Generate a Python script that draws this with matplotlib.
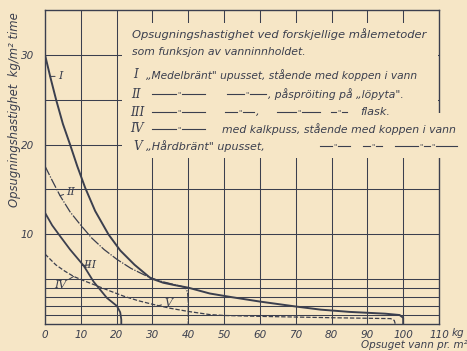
import matplotlib
matplotlib.use('Agg')
import matplotlib.pyplot as plt
from matplotlib.lines import Line2D
from matplotlib.patches import Rectangle

W, H = 467, 351
BG = '#f6e6c6'
INK = '#3b3f4e'

# ---------------- data ----------------
x_I = [0, 1.5, 3.1, 5, 7, 9, 11.2, 14, 17.7, 21, 25, 29.5, 33, 36, 40, 46, 52, 60, 70, 77, 85, 95, 99, 100, 100]
y_I = [30, 27.5, 25, 22.3, 20, 17.6, 15.2, 12.6, 10.0, 8.2, 6.6, 5.1, 4.6, 4.35, 4.05, 3.4, 3.0, 2.5, 1.95, 1.6, 1.35, 1.15, 1.0, 0.7, 0]

x_II = [0, 2, 4.2, 7, 9.8, 13, 16.5, 20.1, 24, 28.6, 32, 36, 39, 39.8, 40, 40]
y_II = [17.6, 16.0, 14.3, 12.5, 11.1, 9.6, 8.3, 7.2, 6.2, 5.3, 4.8, 4.4, 4.1, 3.6, 2.5, 0]

x_III = [0, 2, 4.2, 7, 10.8, 13.6, 17.3, 20.1, 21.0, 21.3, 21.3]
y_III = [12.4, 11.0, 9.8, 8.3, 6.5, 4.7, 2.9, 2.0, 1.3, 0.5, 0]

x_IV = [0, 3, 5.5, 8, 11, 13.6, 18, 22, 26, 30, 35, 40, 46, 50, 60, 80, 96.5, 97.5, 97.8]
y_IV = [7.8, 6.6, 5.9, 5.3, 4.8, 4.4, 3.7, 3.1, 2.6, 2.2, 1.75, 1.4, 1.05, 0.95, 0.85, 0.7, 0.6, 0.4, 0]

x_ticks = [0, 10, 20, 30, 40, 50, 60, 70, 80, 90, 100, 110]
x_ticklabels = ['0', '10', '20', '30', '40', '50', '60', '70', '80', '90', '100', '110']
y_ticks = [10, 20, 30]
y_ticklabels = ['10', '20', '30']
x_grid = [10, 20, 30, 40, 50, 60, 70, 80, 90, 100]
y_grid = [1, 2, 3, 4, 5, 10, 15, 20, 25, 30]

title1 = 'Opsugningshastighet ved forskjellige målemetoder'
title2 = 'som funksjon av vanninnholdet.'
row_I = '„Medelbränt" upusset, stående med koppen i vann'
row_II = ', påspröiting på „löpyta".'
row_III = 'flask.'
row_IV = 'med kalkpuss, stående med koppen i vann'
row_V = '„Hårdbränt" upusset,'
y_label = 'Opsugningshastighet  kg/m² time'
x_label = 'Opsuget vann pr. m²'

# ---------------- figure ----------------
fig = plt.figure(figsize=(W / 100, H / 100), dpi=100, facecolor=BG)
ax = fig.add_axes([45 / W, (H - 324) / H, (439 - 45) / W, (324 - 10) / H])
ax.set_facecolor(BG)
ax.set_xlim(0, 110)
ax.set_ylim(0, 35)

for gx in x_grid:
    ax.axvline(gx, color=INK, lw=0.75, zorder=1)
for gy in y_grid:
    ax.axhline(gy, color=INK, lw=0.75, zorder=1)
for s in ax.spines.values():
    s.set_color(INK)
    s.set_linewidth(1.0)

ax.set_xticks(x_ticks)
ax.set_xticklabels(x_ticklabels, fontstyle='italic', fontsize=7.5, color=INK)
ax.set_yticks(y_ticks)
ax.set_yticklabels(y_ticklabels, fontstyle='italic', fontsize=7.5, color=INK)
ax.tick_params(axis='x', length=0, pad=4)
ax.tick_params(axis='y', length=0, pad=8)

# cover box for the legend text
ax.add_patch(Rectangle((21.6, 18.5), 110 - 21.6 - 0.35, 33.5 - 18.5,
                       facecolor=BG, edgecolor='none', zorder=2.6))
ax.add_patch(Rectangle((108, 18.5), 10, 5.0, facecolor=BG, edgecolor='none',
                       zorder=2.6, clip_on=False))

# curves
ax.plot(x_I, y_I, color=INK, lw=1.4, zorder=3, solid_joinstyle='round')
ax.plot(x_II, y_II, color=INK, lw=0.9, zorder=3, dashes=(8, 1.2, 1, 1.2))
ax.plot(x_III, y_III, color=INK, lw=1.3, zorder=3)
ax.plot(x_IV, y_IV, color=INK, lw=0.9, zorder=3, dashes=(3.5, 1.5))

lab_kw = dict(fontfamily='DejaVu Serif', fontstyle='italic', fontsize=8, color=INK,
              ha='center', va='center', zorder=4)
arr = dict(arrowstyle='-', color=INK, lw=0.7, shrinkA=0, shrinkB=0)
ax.annotate('I', xy=(1.4, 27.6), xytext=(4.2, 27.6), arrowprops=arr, **lab_kw)
ax.annotate('II', xy=(4.2, 14.3), xytext=(7.2, 14.7), arrowprops=arr, **lab_kw)
ax.annotate('III', xy=(10.2, 6.5), xytext=(12.6, 6.6), arrowprops=arr, **lab_kw)
ax.annotate('IV', xy=(8.0, 5.3), xytext=(4.2, 4.4), arrowprops=arr, **lab_kw)
ax.annotate('V', xy=(30.9, 1.95), xytext=(34.4, 2.35), arrowprops=arr, **lab_kw)

# ---------------- figure-pixel helpers ----------------
def ftext(xp, yp, s, **kw):
    base = dict(color=INK, fontstyle='italic', va='center', ha='left')
    base.update(kw)
    return fig.text(xp / W, 1 - yp / H, s, **base)

def fit(t, target, vertical=False):
    fig.canvas.draw()
    bb = t.get_window_extent()
    w = bb.height if vertical else bb.width
    t.set_fontsize(t.get_fontsize() * target / w)
    return t

def hline(x0, x1, yp):
    fig.add_artist(Line2D([x0 / W, x1 / W], [1 - yp / H, 1 - yp / H],
                          transform=fig.transFigure, color=INK, lw=0.8))

def ditto(x0, x1, yp, marks=1):
    gap = 3
    if marks == 1:
        xm = (x0 + x1) / 2
        hline(x0, xm - gap, yp)
        hline(xm + gap, x1, yp)
        ftext(xm, yp + 0.5, '"', fontsize=5, ha='center')
    else:
        a = x0 + (x1 - x0) * 0.42
        b = x0 + (x1 - x0) * 0.62
        hline(x0, a - gap, yp)
        hline(a + gap, b - gap, yp)
        hline(b + gap, x1, yp)
        ftext(a, yp + 0.5, '"', fontsize=5, ha='center')
        ftext(b, yp + 0.5, '"', fontsize=5, ha='center')

rows = [34, 52, 75, 94, 112, 129, 146]
fs0 = 7.5
t1 = fit(ftext(132, rows[0], title1, fontsize=fs0), 293)
fs = t1.get_fontsize()
fit(ftext(132, rows[1], title2, fontsize=fs), 174)

num_kw = dict(fontfamily='DejaVu Serif', fontsize=fs + 0.5)
ftext(133, rows[2], 'I', **num_kw)
fit(ftext(146, rows[2], row_I, fontsize=fs), 272)

ftext(131, rows[3], 'II', **num_kw)
ditto(152, 205, rows[3])
ditto(227, 266, rows[3])
fit(ftext(268, rows[3], row_II, fontsize=fs), 135)

ftext(130, rows[4], 'III', **num_kw)
ditto(152, 205, rows[4])
ditto(225, 254, rows[4])
ftext(256, rows[4], ',', fontsize=fs)
ditto(277, 320, rows[4])
ditto(331, 347, rows[4])
fit(ftext(360, rows[4], row_III, fontsize=fs), 30)

ftext(130, rows[5], 'IV', **num_kw)
ditto(152, 205, rows[5])
fit(ftext(222, rows[5], row_IV, fontsize=fs), 234)

ftext(133, rows[6], 'V', **num_kw)
fit(ftext(146, rows[6], row_V, fontsize=fs), 118)
ditto(320, 350, rows[6])
ditto(363, 382, rows[6])
ditto(395, 457, rows[6], marks=2)

# axis labels
fit(ftext(15, 110, y_label, fontsize=7.5, rotation=90, ha='center'), 194, vertical=True)
ftext(452, 333, 'kg', fontsize=7.5)
ftext(361, 345, x_label, fontsize=7.5)

fig.savefig('out.png', dpi=100, facecolor=BG)
